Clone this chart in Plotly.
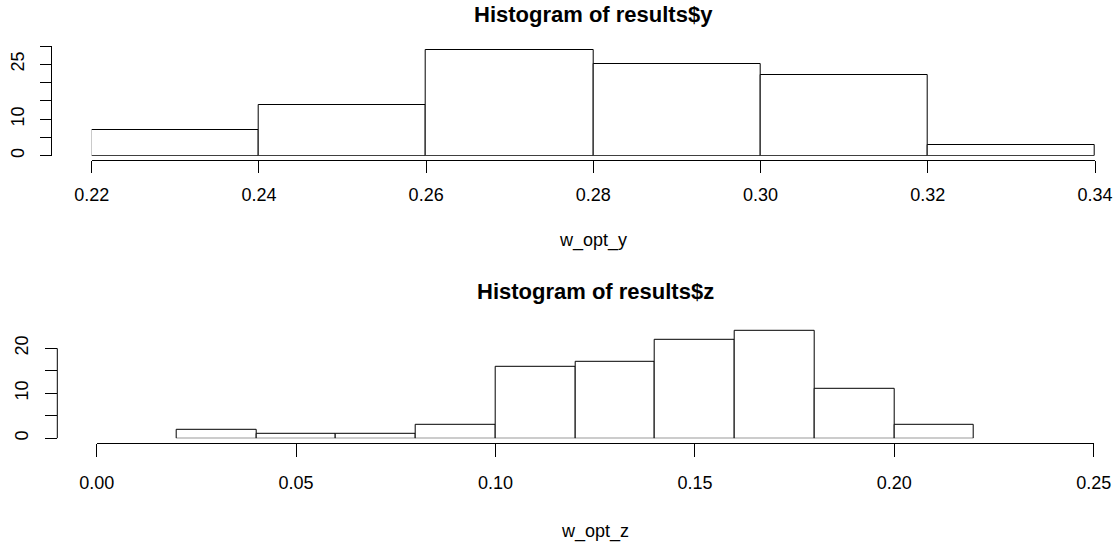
import plotly.graph_objects as go

# ---- data ----
y_bin_starts = [0.22, 0.24, 0.26, 0.28, 0.30, 0.32]
y_counts = [7, 14, 29, 25, 22, 3]
y_bin_width = 0.02
y_xticks = [0.22, 0.24, 0.26, 0.28, 0.30, 0.32, 0.34]
y_xticklabels = ["0.22", "0.24", "0.26", "0.28", "0.30", "0.32", "0.34"]
y_yticks = [0, 5, 10, 15, 20, 25, 30]
y_yticklabels = ["0", "", "10", "", "", "25", ""]

z_bin_starts = [0.02, 0.04, 0.06, 0.08, 0.10, 0.12, 0.14, 0.16, 0.18, 0.20]
z_counts = [2, 1, 1, 3, 16, 17, 22, 24, 11, 3]
z_bin_width = 0.02
z_xticks = [0.00, 0.05, 0.10, 0.15, 0.20, 0.25]
z_xticklabels = ["0.00", "0.05", "0.10", "0.15", "0.20", "0.25"]
z_yticks = [0, 5, 10, 15, 20]
z_yticklabels = ["0", "", "10", "", "20"]

W, H = 1118, 548
def px(p): return p / W
def py(p): return 1 - p / H

FONT = "Liberation Sans, Arial, sans-serif"
tickfont = dict(family=FONT, size=18, color="#000")

fig = go.Figure()
fig.add_trace(go.Bar(
    x=[s + y_bin_width / 2 for s in y_bin_starts], y=y_counts, width=y_bin_width,
    marker=dict(color="white", line=dict(color="black", width=1)), cliponaxis=False,
    xaxis="x", yaxis="y", showlegend=False, hoverinfo="skip"))
fig.add_trace(go.Bar(
    x=[s + z_bin_width / 2 for s in z_bin_starts], y=z_counts, width=z_bin_width,
    marker=dict(color="white", line=dict(color="black", width=1)), cliponaxis=False,
    xaxis="x2", yaxis="y2", showlegend=False, hoverinfo="skip"))

# top scales (pixels)
tx0, tx1 = 91.7, 1095.0          # 0.22, 0.34
ty0, ty30 = 155.7, 46.0          # 0, 30
# bottom scales (pixels)
bx0, bx1 = 96.7, 1093.7          # 0.00, 0.25
zy0, zy20 = 438.3, 348.3         # 0, 20
zs = (zy0 - zy20) / 20
z_ytop = 25

axis_common = dict(showgrid=False, zeroline=False, linecolor="black",
                   linewidth=1, ticks="outside", tickcolor="black",
                   tickwidth=1, tickfont=tickfont)

fig.update_layout(
    width=W, height=H, margin=dict(l=0, r=0, t=0, b=0, pad=0, autoexpand=False),
    paper_bgcolor="white", plot_bgcolor="rgba(0,0,0,0)",
    barmode="overlay", bargap=0,
    xaxis=dict(range=[0.22, 0.34], domain=[px(tx0), px(tx1)], anchor="free",
               position=py(159.6), tickvals=y_xticks, ticktext=y_xticklabels,
               showline=True, ticklen=12, ticklabelstandoff=7, **axis_common),
    yaxis=dict(range=[0, 30], domain=[py(ty0), py(ty30)], anchor="free",
               position=px(51), tickvals=y_yticks, ticktext=y_yticklabels,
               showline=True, ticklen=11, tickangle=-90, ticklabelstandoff=9,
               autoshift=False, **axis_common),
    xaxis2=dict(range=[0, 0.25], domain=[px(bx0), px(bx1)], anchor="free",
                position=py(442.7), tickvals=z_xticks, ticktext=z_xticklabels,
                showline=True, ticklen=13, ticklabelstandoff=11, **axis_common),
    yaxis2=dict(range=[0, z_ytop], domain=[py(zy0), py(zy0 - z_ytop * zs)], anchor="free",
                position=px(57.3), tickvals=z_yticks, ticktext=z_yticklabels,
                showline=False, ticklen=12, tickangle=-90, ticklabelstandoff=10,
                autoshift=False, **axis_common),
    shapes=[dict(type="line", xref="paper", yref="y2", x0=px(57.3), x1=px(57.3),
                 y0=z_yticks[0], y1=z_yticks[-1], line=dict(color="black", width=1))],
    annotations=[
        dict(text="<b>Histogram of results$y</b>", x=px(593), y=py(14.5), xref="paper", yref="paper",
             showarrow=False, font=dict(family=FONT, size=22, color="black"),
             xanchor="center", yanchor="middle"),
        dict(text="w_opt_y", x=px(593), y=py(240.5), xref="paper", yref="paper",
             showarrow=False, font=dict(family=FONT, size=18, color="black"),
             xanchor="center", yanchor="middle"),
        dict(text="<b>Histogram of results$z</b>", x=px(595), y=py(291), xref="paper", yref="paper",
             showarrow=False, font=dict(family=FONT, size=22, color="black"),
             xanchor="center", yanchor="middle"),
        dict(text="w_opt_z", x=px(595), y=py(531), xref="paper", yref="paper",
             showarrow=False, font=dict(family=FONT, size=18, color="black"),
             xanchor="center", yanchor="middle"),
    ],
)

fig.write_html("out.html", config={"displayModeBar": False},
               post_script="document.body.style.margin='0';")
